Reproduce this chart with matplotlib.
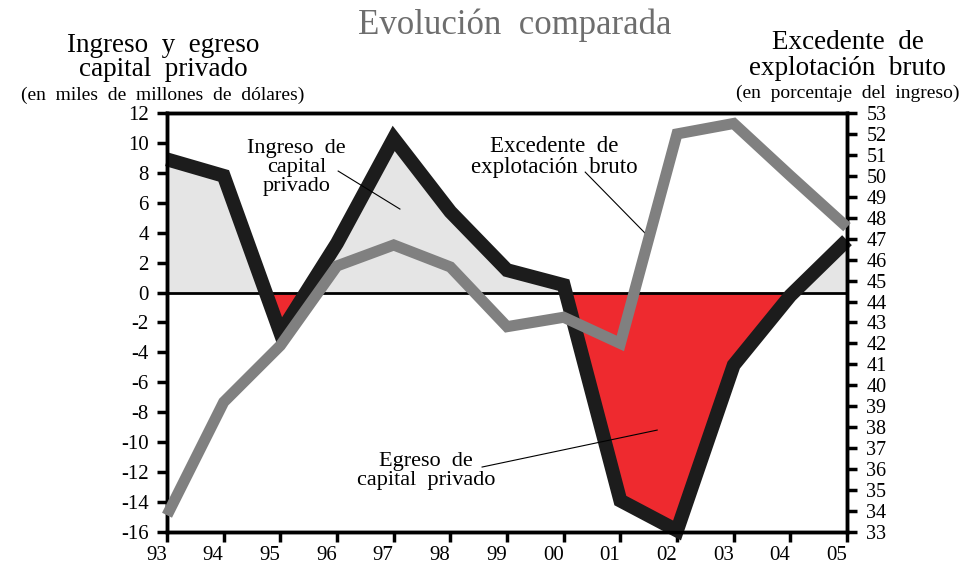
import numpy as np
import matplotlib
matplotlib.use("Agg")
import matplotlib.pyplot as plt

years = ["93", "94", "95", "96", "97", "98", "99", "00", "01", "02", "03", "04", "05"]
capital_privado = [8.9, 7.8, -2.7, 3.3, 10.3, 5.4, 1.5, 0.5, -13.9, -15.9, -4.85, -0.2, 3.5]
excedente_bruto = [33.8, 39.2, 41.9, 45.7, 46.7, 45.65, 42.8, 43.25, 42.0, 52.0, 52.5, 50.0, 47.55]

plt.rcParams['font.family'] = ['Liberation Serif', 'DejaVu Serif']
plt.rcParams['axes.unicode_minus'] = False

x = np.arange(len(years))
cap = np.array(capital_privado)

fig = plt.figure(figsize=(9.7, 5.63), dpi=100)
ax = fig.add_axes([0.1722, 0.0551, 0.701, 0.7442])
ax2 = ax.twinx()

ax.fill_between(x, cap, 0, where=cap >= 0, interpolate=True,
                color='#e5e5e5', lw=0, zorder=1)
ax.fill_between(x, cap, 0, where=cap <= 0, interpolate=True,
                color='#ee2a2f', lw=0, zorder=1)
ax.axhline(0, color='black', lw=2, zorder=2)
ax.plot(x, cap, color='#1c1c1c', lw=10, solid_joinstyle='miter',
        solid_capstyle='butt', zorder=3, clip_on=False)

ax2.plot(x, excedente_bruto, color='#808080', lw=8, solid_joinstyle='miter',
         solid_capstyle='butt', zorder=4, clip_on=False)

ax.set_xlim(0, 12)
ax.set_ylim(-16, 12)
ax2.set_ylim(33, 53)
ax.set_xticks(x)
ax.set_xticklabels(years, ha='right')
ax.set_yticks(range(-16, 13, 2))
ax2.set_yticks(range(33, 54))

for a in (ax, ax2):
    for s in a.spines.values():
        s.set_linewidth(2.5)
    a.tick_params(direction='out', length=7, width=2.5, labelsize=15, pad=6)
ax2.tick_params(labelsize=14.5, pad=7)
ax.tick_params(axis='x', pad=3, labelsize=15)

# annotations
ax.text(2.29, 8.39, "Ingreso  de\ncapital\nprivado", ha='center', va='center',
        fontsize=16, linespacing=1.0, zorder=5)
ax.plot([3.02, 4.11], [8.12, 5.58], color='black', lw=0.8, zorder=5)
ax.text(6.83, 9.06, "Excedente  de\nexplotación  bruto", ha='center', va='center',
        fontsize=16.5, linespacing=1.0, zorder=5)
ax.plot([7.38, 8.47], [8.05, 3.84], color='black', lw=0.8, zorder=5)
ax.text(4.57, -11.93, "Egreso  de\ncapital  privado", ha='center', va='center',
        fontsize=16, linespacing=1.0, zorder=5)
ax.plot([5.56, 8.65], [-11.66, -9.19], color='black', lw=0.8, zorder=5)

# headers
fig.text(0.531, 0.956, "Evolución  comparada", ha='center', va='center',
         fontsize=25, color='#6e6e6e')
fig.text(0.168, 0.920, "Ingreso  y  egreso", ha='center', va='center', fontsize=19.5)
fig.text(0.168, 0.876, "capital  privado", ha='center', va='center', fontsize=19.5)
fig.text(0.168, 0.831, "(en  miles  de  millones  de  dólares)", ha='center',
         va='center', fontsize=14)
fig.text(0.874, 0.924, "Excedente  de", ha='center', va='center', fontsize=19.5)
fig.text(0.874, 0.879, "explotación  bruto", ha='center', va='center', fontsize=19.5)
fig.text(0.874, 0.835, "(en  porcentaje  del  ingreso)", ha='center', va='center',
         fontsize=14)

fig.savefig("out.png", dpi=100)
